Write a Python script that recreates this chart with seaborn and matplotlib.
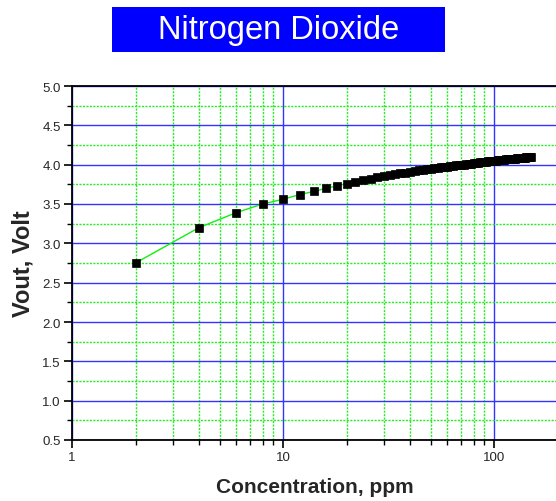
import numpy as np
import pandas as pd
import matplotlib
matplotlib.use("Agg")
import matplotlib.pyplot as plt
from matplotlib.patches import Rectangle
from matplotlib.ticker import LogLocator, MultipleLocator, FixedLocator, FixedFormatter, NullFormatter
import seaborn as sns

title = "Nitrogen Dioxide"
x_label = "Concentration, ppm"
y_label = "Vout, Volt"

concentration = list(range(2, 152, 2))
vout = [2.75, 3.20, 3.39, 3.50, 3.56, 3.62, 3.66, 3.70, 3.73, 3.76,
        3.78, 3.80, 3.82, 3.84, 3.86, 3.871, 3.88, 3.89, 3.90, 3.91,
        3.92, 3.93, 3.935, 3.94, 3.95, 3.956, 3.961, 3.966, 3.971, 3.976,
        3.981, 3.985, 3.990, 3.994, 3.998, 4.002, 4.006, 4.010, 4.014, 4.018,
        4.021, 4.025, 4.028, 4.032, 4.035, 4.038, 4.041, 4.044, 4.047, 4.050,
        4.052, 4.055, 4.057, 4.059, 4.062, 4.064, 4.066, 4.068, 4.070, 4.072,
        4.074, 4.076, 4.078, 4.080, 4.082, 4.084, 4.085, 4.087, 4.089, 4.091,
        4.092, 4.094, 4.096, 4.097, 4.099]

x_ticks = [1, 10, 100]
x_tick_labels = ["1", "10", "100"]

df = pd.DataFrame({"conc": concentration, "vout": vout})

sns.set_style("white")
plt.rcParams['font.family'] = ['Liberation Sans', 'DejaVu Sans']

W, H = 556, 502
fig = plt.figure(figsize=(W / 100, H / 100), dpi=100)
ax = fig.add_axes([72 / W, (H - 441) / H, 485.6 / W, 354 / H])

sns.lineplot(data=df, x="conc", y="vout", ax=ax, color="#11ee11", linewidth=1.0,
             marker="s", markersize=5.8, markerfacecolor="black",
             markeredgecolor="black", markeredgewidth=0.5, zorder=5)

ax.set_xscale("log")
ax.set_xlim(1, 200)
ax.set_ylim(0.5, 5.0)

ax.xaxis.set_major_locator(FixedLocator(x_ticks))
ax.xaxis.set_major_formatter(FixedFormatter(x_tick_labels))
ax.xaxis.set_minor_locator(LogLocator(base=10, subs=np.arange(2, 10), numticks=20))
ax.xaxis.set_minor_formatter(NullFormatter())
ax.yaxis.set_major_locator(MultipleLocator(0.5))
ax.yaxis.set_minor_locator(MultipleLocator(0.25))
ax.yaxis.set_major_formatter(matplotlib.ticker.FormatStrFormatter("%.1f"))

ax.grid(which="major", color="#3333ff", linestyle="-", linewidth=1.0)
ax.grid(which="minor", color="#22ee22", linestyle=(0, (1.5, 1.0)), linewidth=1.0)
ax.set_axisbelow(True)

ax.tick_params(which="major", direction="out", length=6, width=1.2, color="black",
               labelsize=9.5, bottom=True, left=True, pad=2)
ax.tick_params(which="minor", direction="out", length=3.5, width=1.0, color="black",
               bottom=True, left=True)

for side in ["left", "bottom", "top", "right"]:
    ax.spines[side].set_visible(True)
    ax.spines[side].set_color("black")
    ax.spines[side].set_linewidth(1.3)

ax.set_xlabel(x_label, fontsize=15, fontweight="bold", labelpad=10)
ax.set_ylabel(y_label, fontsize=17, fontweight="bold", labelpad=6)

fig.patches.append(Rectangle((112 / W, (H - 53) / H), 333 / W, 45 / H,
                             transform=fig.transFigure, facecolor="#0000ff",
                             edgecolor="none"))
fig.text(278.5 / W, (H - 31) / H, title, color="white", fontsize=23.5,
         ha="center", va="center")

fig.savefig("out.png", dpi=100)
